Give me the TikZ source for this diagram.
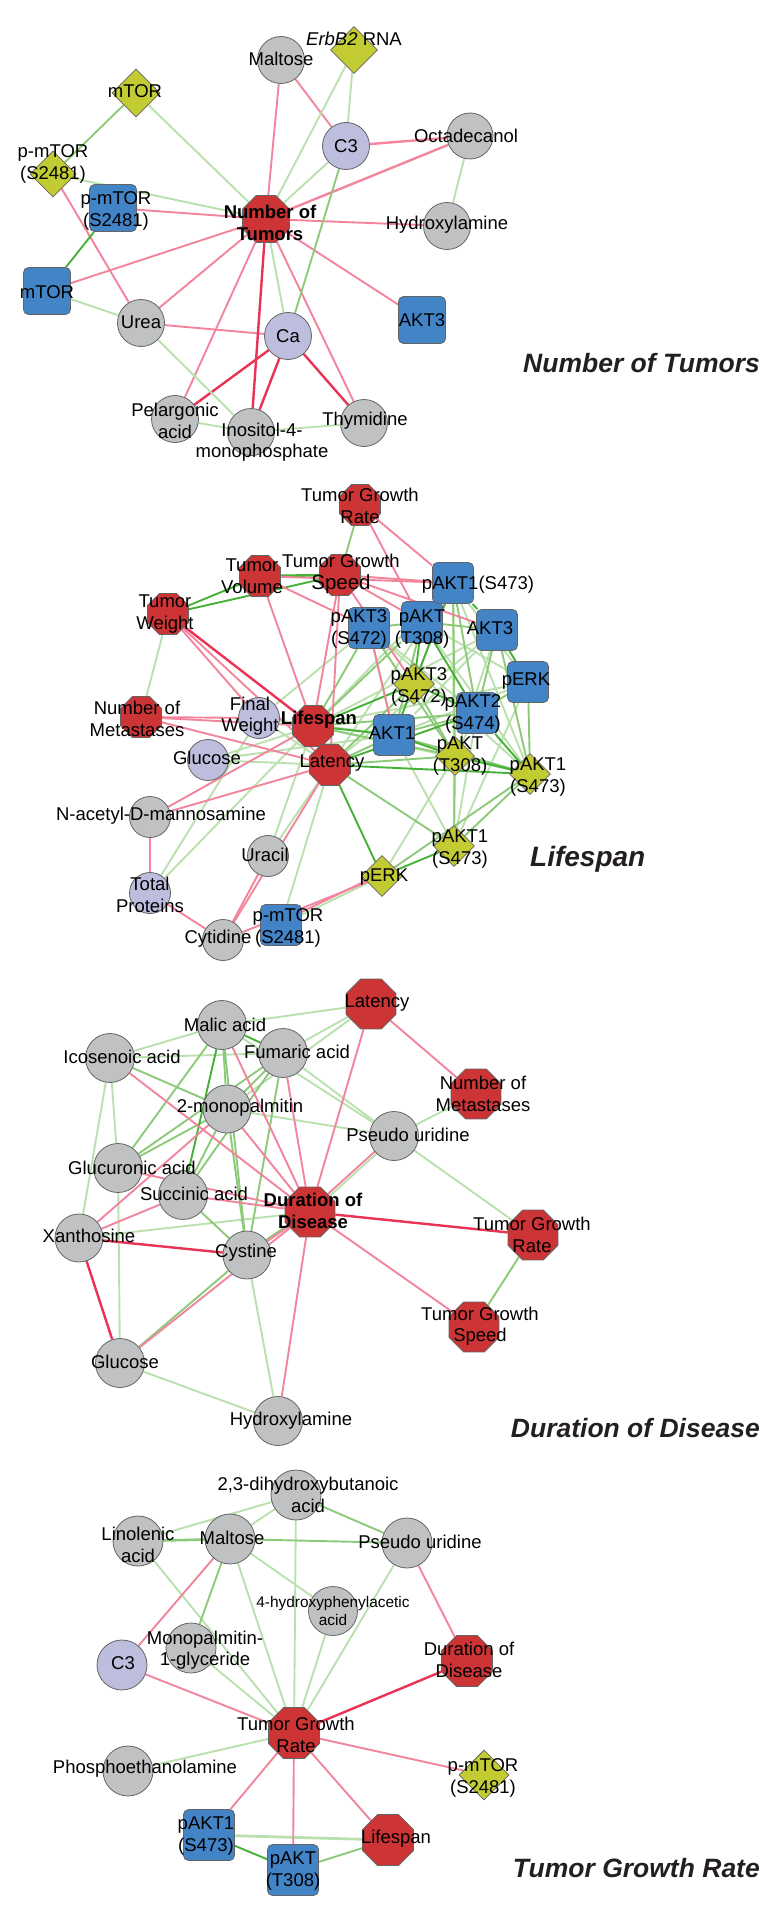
\documentclass[tikz,border=0pt]{standalone}
\usepackage{fontspec}
\setmainfont{Liberation Sans}
\usetikzlibrary{shapes.geometric,backgrounds}

\definecolor{nodered}{RGB}{204,52,54}
\definecolor{nodegray}{RGB}{192,193,195}
\definecolor{nodelav}{RGB}{189,189,221}
\definecolor{nodeblue}{RGB}{67,132,198}
\definecolor{nodeolive}{RGB}{195,203,50}
\definecolor{rim}{RGB}{100,100,100}
\definecolor{edgepink}{RGB}{242,132,156}
\definecolor{edgered}{RGB}{234,50,84}
\definecolor{edgelgreen}{RGB}{186,224,174}
\definecolor{edgemgreen}{RGB}{140,202,122}
\definecolor{edgedgreen}{RGB}{70,176,55}
\definecolor{titlegray}{RGB}{35,31,32}

\tikzset{
  shp/.style={draw=rim, line width=0.8pt, inner sep=0pt},
  gry/.style={shp, circle, fill=nodegray, minimum size=#1},
  lav/.style={shp, circle, fill=nodelav, minimum size=#1},
  oct/.style={shp, regular polygon, regular polygon sides=8, fill=nodered, minimum size=#1},
  box/.style={shp, rectangle, rounded corners=5pt, fill=nodeblue, minimum size=#1},
  dia/.style={shp, diamond, fill=nodeolive, minimum size=#1},
  lbl/.style={inner sep=0pt, align=center, font=\fontsize{18.5}{21.5}\selectfont},
  ttl/.style={inner sep=0pt, text=titlegray, font=\fontsize{26.5}{30}\selectfont\bfseries\itshape},
  pk/.style={draw=edgepink, line width=1.9pt},
  pkd/.style={draw=edgered, line width=2.4pt},
  lg/.style={draw=edgelgreen, line width=1.9pt},
  mg/.style={draw=edgemgreen, line width=1.9pt},
  dg/.style={draw=edgedgreen, line width=1.9pt},
}

\begin{document}
\begin{tikzpicture}[x=1pt,y=-1pt]
\useasboundingbox (0,0) rectangle (763,1910);

% ---- Number of Tumors
\node[oct=51] (nt1) at (266,219) {};
\node[dia=48] (mtd1) at (136,93) {};
\node[gry=47] (malt1) at (281,60) {};
\node[dia=47] (erb1) at (354,50) {};
\node[lav=47] (c3a) at (346,146) {};
\node[gry=46] (octa1) at (470,136) {};
\node[gry=47] (hyd1) at (447,226) {};
\node[dia=46] (pmd1) at (53,174) {};
\node[box=47] (pmb1) at (113,208) {};
\node[box=47] (mtb1) at (47,291) {};
\node[gry=47] (urea1) at (141,323) {};
\node[lav=47] (ca1) at (288,336) {};
\node[box=47] (akt3a) at (422,320) {};
\node[gry=47] (pel1) at (175,419) {};
\node[gry=47] (ino1) at (251,432) {};
\node[gry=47] (thy1) at (364,423) {};

\begin{scope}[on background layer]
\foreach \a/\b in {malt1/nt1, malt1/c3a, nt1/hyd1, pmb1/nt1, pmd1/urea1, mtb1/nt1,
  urea1/nt1, urea1/ca1, nt1/pel1, nt1/thy1, nt1/akt3a}
  \draw[pk] (\a) -- (\b);
\draw[pk, line width=2.4pt] (c3a) -- (octa1);
\draw[pk, line width=2.4pt] (octa1) -- (nt1);
\foreach \a/\b in {nt1/ino1, ca1/pel1, ca1/ino1, ca1/thy1}
  \draw[pkd] (\a) -- (\b);
\foreach \a/\b in {mtd1/nt1, erb1/nt1, erb1/c3a, c3a/nt1, octa1/hyd1, pmd1/nt1,
  mtb1/urea1, urea1/ino1, nt1/ca1, pel1/ino1, ino1/thy1}
  \draw[lg] (\a) -- (\b);
\draw[mg] (mtd1) -- (pmd1);
\draw[mg] (c3a) -- (ca1);
\draw[dg] (pmb1) -- (mtb1);
\end{scope}

\node[lbl, font=\fontsize{18.5}{21.5}\selectfont\bfseries] (nt1-t) at (270,223) {Number of\\Tumors};
\node[lbl] (mtd1-t) at (135,91) {mTOR};
\node[lbl] (malt1-t) at (281,59) {Maltose};
\node[lbl] (erb1-t) at (354,39) {\textit{ErbB2} RNA};
\node[lbl] (c3a-t) at (346,146) {C3};
\node[lbl] (octa1-t) at (466,136) {Octadecanol};
\node[lbl] (hyd1-t) at (447,225) {Hydroxylamine};
\node[lbl] (pmd1-t) at (53,164) {p-mTOR\\(S2481)};
\node[lbl] (pmb1-t) at (116,211) {p-mTOR\\(S2481)};
\node[lbl] (mtb1-t) at (47,292) {mTOR};
\node[lbl] (urea1-t) at (141,322) {Urea};
\node[lbl] (ca1-t) at (288,336) {Ca};
\node[lbl] (akt3a-t) at (422,320) {AKT3};
\node[lbl] (pel1-t) at (175,421) {Pelargonic\\acid};
\node[lbl] (ino1-t) at (262,442) {Inositol-4-\\monophosphate};
\node[lbl] (thy1-t) at (365,421) {Thymidine};
\node[ttl, anchor=east] (ttl1) at (760,363) {Number of Tumors};

% ---- Lifespan
\node[oct=44.5] (ls2) at (313,726) {};
\node[oct=44.5] (lat2) at (330,765) {};
\node[oct=44.5] (tgr2) at (360,505) {};
\node[oct=44.5] (tgs2) at (340,575) {};
\node[oct=44.5] (tv2) at (260,576) {};
\node[oct=44.5] (tw2) at (168,614) {};
\node[oct=44.5] (nm2) at (141,717) {};
\node[lav=41] (fw2) at (259,718) {};
\node[lav=41] (glc2) at (208,760) {};
\node[gry=41] (nac2) at (150,817) {};
\node[gry=41] (ura2) at (268,856) {};
\node[lav=41] (tp2) at (150,893) {};
\node[gry=41] (cyt2) at (223,940) {};
\node[box=41] (pmb2) at (281,925) {};
\node[dia=41] (perkd2) at (382,876) {};
\node[dia=41] (pa1d2b) at (454,846) {};
\node[dia=41] (pa1d2) at (530,774) {};
\node[dia=39] (patd2) at (455,756) {};
\node[box=41] (akt1b2) at (394,735) {};
\node[box=41] (pa2b2) at (477,713) {};
\node[dia=41] (pa3d2) at (414,684) {};
\node[box=41] (perkb2) at (528,682) {};
\node[box=41] (ak3b2) at (497,630) {};
\node[box=41] (patb2) at (422,622) {};
\node[box=41] (pa3b2) at (369,628) {};
\node[box=41] (pa1b2) at (453,583) {};

\begin{scope}[on background layer]
\foreach \a/\b in {ls2/fw2, ls2/glc2, ls2/pa1b2, ls2/ak3b2, ls2/perkb2, ls2/pa1d2,
  lat2/fw2, lat2/glc2, lat2/pa1b2, lat2/ak3b2, lat2/pmb2, lat2/ura2, ls2/ura2,
  fw2/pa3b2, fw2/akt1b2, glc2/akt1b2, tp2/fw2, tp2/ls2, akt1b2/pa1b2, akt1b2/ak3b2,
  akt1b2/perkb2, akt1b2/pa1d2b, pa3b2/pa2b2, pa3b2/pa1d2, patb2/perkb2, patb2/pa1d2,
  pa1b2/pa1d2, pa1b2/perkb2, pa1b2/pa1d2b, ak3b2/patd2, perkb2/pa1d2b, pa2b2/patd2,
  pa2b2/pa1d2b, patd2/perkd2, tw2/nm2, pmb2/perkd2}
  \draw[lg] (\a) -- (\b);
\foreach \a/\b in {ls2/pa3b2, ls2/patb2, ls2/pa2b2, ls2/patd2, lat2/akt1b2, lat2/pa3d2,
  lat2/patd2, lat2/pa1d2b, akt1b2/pa3b2, akt1b2/patb2, akt1b2/pa2b2, akt1b2/pa1d2,
  pa3b2/patb2, pa3b2/patd2, patb2/pa1b2, patb2/ak3b2, pa1b2/patd2, pa1b2/pa2b2,
  ak3b2/pa2b2, ak3b2/pa1d2, perkb2/pa1d2, perkb2/pa2b2, pa3d2/patd2, patd2/pa1d2b,
  pa1d2/pa1d2b, perkd2/pa1d2, tgr2/tgs2}
  \draw[mg] (\a) -- (\b);
\foreach \a/\b in {ls2/akt1b2, ls2/pa3d2, lat2/pa2b2, lat2/pa1d2, akt1b2/pa3d2,
  patb2/pa3d2, pa1b2/ak3b2, pa3d2/pa2b2, pa2b2/pa1d2, patd2/pa1d2, akt1b2/patd2,
  ak3b2/perkb2, perkd2/pa1d2b, lat2/perkd2, pa1b2/pa3d2, patb2/pa2b2, tw2/tv2, tw2/tgs2}
  \draw[dg] (\a) -- (\b);
\draw[dg, line width=2.6pt] (tv2) -- (tgs2);
\foreach \a/\b in {tgr2/patb2, tgr2/pa1b2, tv2/pa1b2, tgs2/pa1b2, tgs2/patb2, tgs2/ak3b2,
  tgs2/ls2, tgs2/lat2, tv2/ls2, tv2/pa3b2, tgs2/pa3d2, tw2/lat2, tw2/fw2, nm2/ls2,
  nm2/fw2, nm2/lat2, nac2/ls2, nac2/lat2, nac2/tp2, tp2/cyt2, cyt2/ura2, cyt2/lat2,
  cyt2/perkd2, pa3b2/akt1b2}
  \draw[pk] (\a) -- (\b);
\draw[pk] ([yshift=3pt]pmb2.center) -- ([yshift=3pt]perkd2.center);
\draw[pkd] (tw2) -- (ls2);
\end{scope}

\node[lbl, font=\fontsize{18.5}{21.5}\selectfont\bfseries] (ls2-t) at (319,720) {Lifespan};
\node[lbl] (lat2-t) at (332,763) {Latency};
\node[lbl] (tgr2-t) at (360,506) {Tumor Growth\\Rate};
\node[lbl] (tgs2-t) at (341,574) {Tumor Growth\\{\fontsize{20.5}{22}\selectfont Speed}};
\node[lbl] (tv2-t) at (252,576) {Tumor\\Volume};
\node[lbl] (tw2-t) at (165,614) {Tumor\\Weight};
\node[lbl] (nm2-t) at (137,719) {Number of\\Metastases};
\node[lbl] (fw2-t) at (250,716) {Final\\Weight};
\node[lbl] (glc2-t) at (207,758) {Glucose};
\node[lbl] (nac2-t) at (161,816) {N-acetyl-D-mannosamine};
\node[lbl] (ura2-t) at (265,855) {Uracil};
\node[lbl] (tp2-t) at (150,895) {Total\\Proteins};
\node[lbl] (cyt2-t) at (218,939) {Cytidine};
\node[lbl] (pmb2-t) at (288,928) {p-mTOR\\(S2481)};
\node[lbl] (perkd2-t) at (384,877) {pERK};
\node[lbl] (pa1d2b-t) at (460,849) {pAKT1\\(S473)};
\node[lbl] (pa1d2-t) at (538,777) {pAKT1\\(S473)};
\node[lbl] (patd2-t) at (460,756) {pAKT\\(T308)};
\node[lbl] (akt1b2-t) at (392,733) {AKT1};
\node[lbl] (pa2b2-t) at (473,714) {pAKT2\\(S474)};
\node[lbl] (pa3d2-t) at (419,687) {pAKT3\\(S472)};
\node[lbl] (perkb2-t) at (526,681) {pERK};
\node[lbl] (ak3b2-t) at (490,628) {AKT3};
\node[lbl] (patb2-t) at (422,629) {pAKT\\(T308)};
\node[lbl] (pa3b2-t) at (359,629) {pAKT3\\(S472)};
\node[lbl] (pa1b2-t) at (478,585) {pAKT1(S473)};
\node[ttl, anchor=west, font=\fontsize{28}{32}\selectfont\bfseries\itshape] (ttl2) at (530,859) {Lifespan};

% ---- Duration of Disease
\node[oct=54] (dd3) at (310,1212) {};
\node[oct=54] (lat3) at (371,1004) {};
\node[gry=49] (mal3) at (222,1025) {};
\node[gry=49] (ico3) at (110,1058) {};
\node[gry=49] (fum3) at (283,1053) {};
\node[gry=48] (mono3) at (227,1109) {};
\node[oct=54] (nm3) at (476,1094) {};
\node[gry=49] (psu3) at (394,1136) {};
\node[gry=49] (glr3) at (118,1168) {};
\node[gry=49] (suc3) at (183,1195) {};
\node[gry=48] (xan3) at (79,1238) {};
\node[gry=48] (cys3) at (247,1255) {};
\node[oct=54] (tgr3) at (533,1235) {};
\node[oct=54] (tgs3) at (474,1327) {};
\node[gry=49] (glc3) at (120,1363) {};
\node[gry=49] (hyd3) at (278,1421) {};

\begin{scope}[on background layer]
\foreach \a/\b in {mal3/lat3, ico3/mal3, ico3/fum3, fum3/lat3, mono3/lat3, nm3/psu3,
  mal3/psu3, fum3/psu3, mono3/psu3, psu3/tgr3, ico3/glr3, ico3/xan3, glr3/glc3,
  xan3/dd3, cys3/hyd3, glc3/hyd3}
  \draw[lg] (\a) -- (\b);
\draw[lg] ([xshift=2pt]psu3.center) -- ([xshift=2pt]dd3.center);
\foreach \a/\b in {ico3/mono3, mal3/glr3, mal3/mono3, mal3/cys3, fum3/glr3, fum3/mono3,
  fum3/suc3, fum3/cys3, mono3/glr3, mono3/cys3, mono3/suc3, suc3/cys3, tgr3/tgs3,
  glc3/cys3}
  \draw[mg] (\a) -- (\b);
\draw[mg] ([yshift=2pt]dd3.center) -- ([yshift=2pt]cys3.center);
\draw[dg] (mal3) -- (fum3);
\draw[dg] (mal3) -- (suc3);
\foreach \a/\b in {lat3/dd3, lat3/nm3, ico3/dd3, mal3/dd3, fum3/dd3, mono3/dd3,
  mono3/xan3, glr3/dd3, suc3/dd3, suc3/xan3, dd3/cys3, dd3/tgs3, dd3/hyd3, glc3/dd3}
  \draw[pk] (\a) -- (\b);
\draw[pk] ([xshift=-2pt]psu3.center) -- ([xshift=-2pt]dd3.center);
\foreach \a/\b in {xan3/cys3, xan3/glc3, dd3/tgr3}
  \draw[pkd] (\a) -- (\b);
\end{scope}

\node[lbl, font=\fontsize{18.5}{21.5}\selectfont\bfseries] (dd3-t) at (313,1211) {Duration of\\Disease};
\node[lbl] (lat3-t) at (377,1003) {Latency};
\node[lbl] (mal3-t) at (225,1025) {Malic acid};
\node[lbl] (ico3-t) at (122,1057) {Icosenoic acid};
\node[lbl] (fum3-t) at (297,1052) {Fumaric acid};
\node[lbl] (mono3-t) at (240,1108) {2-monopalmitin};
\node[lbl] (nm3-t) at (483,1094) {Number of\\Metastases};
\node[lbl] (psu3-t) at (408,1135) {Pseudo uridine};
\node[lbl] (glr3-t) at (132,1168) {Glucuronic acid};
\node[lbl] (suc3-t) at (194,1194) {Succinic acid};
\node[lbl] (xan3-t) at (89,1236) {Xanthosine};
\node[lbl] (cys3-t) at (246,1253) {Cystine};
\node[lbl] (tgr3-t) at (532,1235) {Tumor Growth\\Rate};
\node[lbl] (tgs3-t) at (480,1326) {Tumor Growth\\Speed};
\node[lbl] (glc3-t) at (125,1362) {Glucose};
\node[lbl] (hyd3-t) at (291,1421) {Hydroxylamine};
\node[ttl, anchor=east] (ttl3) at (760,1428) {Duration of Disease};

% ---- Tumor Growth Rate
\node[oct=55] (tgr4) at (294,1733) {};
\node[gry=50] (dhb4) at (296,1495) {};
\node[gry=50] (lin4) at (138,1541) {};
\node[gry=50] (mal4) at (230,1539) {};
\node[gry=50] (psu4) at (407,1543) {};
\node[gry=49] (hpa4) at (333,1611) {};
\node[gry=50] (mon4) at (191,1648) {};
\node[lav=50] (c34) at (122,1665) {};
\node[oct=55] (dd4) at (467,1661) {};
\node[gry=50] (pho4) at (128,1771) {};
\node[dia=50] (pmd4) at (484,1775) {};
\node[box=51] (pa1b4) at (209,1835) {};
\node[box=51] (patb4) at (293,1870) {};
\node[oct=55] (ls4) at (388,1840) {};

\begin{scope}[on background layer]
\foreach \a/\b in {dhb4/lin4, dhb4/mal4, dhb4/tgr4, lin4/tgr4, mal4/tgr4, mal4/hpa4,
  psu4/tgr4, hpa4/tgr4, mon4/tgr4, tgr4/pho4}
  \draw[lg] (\a) -- (\b);
\draw[lg, line width=2.8pt] (pa1b4) -- (ls4);
\foreach \a/\b in {dhb4/psu4, mal4/psu4, mal4/mon4, patb4/ls4}
  \draw[mg] (\a) -- (\b);
\draw[mg, line width=2.6pt] (lin4) -- (mal4);
\draw[dg] (pa1b4) -- (patb4);
\foreach \a/\b in {mal4/c34, psu4/dd4, c34/tgr4, tgr4/pmd4, tgr4/pa1b4, tgr4/patb4, tgr4/ls4}
  \draw[pk] (\a) -- (\b);
\draw[pkd] (dd4) -- (tgr4);
\end{scope}

\node[lbl] (tgr4-t) at (296,1735) {Tumor Growth\\Rate};
\node[lbl] (dhb4-t) at (308,1495) {2,3-dihydroxybutanoic\\acid};
\node[lbl] (lin4-t) at (138,1545) {Linolenic\\acid};
\node[lbl] (mal4-t) at (232,1538) {Maltose};
\node[lbl] (psu4-t) at (420,1542) {Pseudo uridine};
\node[lbl, font=\fontsize{15.4}{18}\selectfont] (hpa4-t) at (333,1611) {4-hydroxyphenylacetic\\acid};
\node[lbl] (mon4-t) at (205,1650) {Monopalmitin-\\1-glyceride};
\node[lbl] (c34-t) at (123,1663) {C3};
\node[lbl] (dd4-t) at (469,1660) {Duration of\\Disease};
\node[lbl] (pho4-t) at (145,1769) {Phosphoethanolamine};
\node[lbl] (pmd4-t) at (483,1778) {p-mTOR\\(S2481)};
\node[lbl] (pa1b4-t) at (206,1836) {pAKT1\\(S473)};
\node[lbl] (patb4-t) at (293,1871) {pAKT\\(T308)};
\node[lbl] (ls4-t) at (396,1839) {Lifespan};
\node[ttl, anchor=east] (ttl4) at (760,1868) {Tumor Growth Rate};
\end{tikzpicture}
\end{document}
